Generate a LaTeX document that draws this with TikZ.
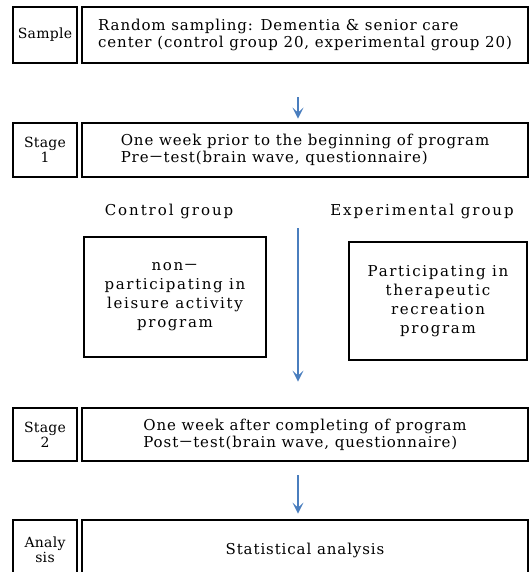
\documentclass[tikz,border=0pt]{standalone}
\usepackage{fontspec}
\setmainfont{DejaVu Serif}[LetterSpace=6]
\newfontfamily\cjk{Noto Sans CJK KR}
\usepackage{tikz}
\usetikzlibrary{calc,arrows.meta,shadows}
\definecolor{flowblue}{RGB}{74,126,190}
\newcommand{\wdash}{{\cjk －}}

\begin{document}
\begin{tikzpicture}[x=1pt,y=-1pt,
  box/.style={draw,fill=white,line width=2.8pt,inner sep=0pt,
    drop shadow={shadow xshift=-1.2pt,shadow yshift=-1.2pt,fill=black!45,opacity=1},
    font=\fontsize{15}{17}\selectfont},
  tag/.style={box,minimum width=64pt,align=center,font=\fontsize{14}{15}\addfontfeatures{LetterSpace=2}},
  wide/.style={box,minimum width=446pt,align=left},
  group/.style={box,align=center,font=\fontsize{15}{19}\addfontfeatures{LetterSpace=11}},
  label/.style={font=\fontsize{15}{16}\addfontfeatures{LetterSpace=13}},
  flow/.style={draw=flowblue,line width=2.6pt,-{Stealth[length=11pt,width=11pt,inset=5pt]}}
]
\useasboundingbox (0,0) rectangle (529,572);

%%% LEFT COLUMN
\node[tag,minimum height=56pt] (sample) at (45,35) {Sample};
\node[tag,minimum height=54pt] (stage1) at (45,150) {Stage\\1};
\node[tag,minimum height=53pt] (stage2) at (45,434.5) {Stage\\2};
\node[tag,minimum height=60pt] (analysis) at (45,550) {Analy\\sis};

%%% RIGHT COLUMN
\node[wide,minimum height=56pt] (sampleR) at (305,35)
  {Random sampling: Dementia \& senior care\\center (control group 20, experimental group 20)};
\node[wide,minimum height=54pt] (stage1R) at (305,150)
  {One week prior to the beginning of program\\Pre\wdash test(brain wave, questionnaire)};
\node[wide,minimum height=53pt] (stage2R) at (305,434.5)
  {One week after completing of program\\Post\wdash test(brain wave, questionnaire)};
\node[wide,minimum height=60pt,align=center] (analysisR) at (305,550) {Statistical analysis};

%%% GROUPS
\node[label] (ctrlT) at (169,211) {Control group};
\node[label] (expT) at (422,211) {Experimental group};
\node[group,minimum width=182pt,minimum height=120pt] (ctrl) at (175,297)
  {non\wdash\\participating in\\leisure activity\\program};
\node[group,minimum width=178pt,minimum height=118pt] (exp) at (438,301)
  {Participating in\\therapeutic\\recreation\\program};

% arrows between the stages
\draw[flow] ($(sampleR.south)+(-7,33)$) -- ($(stage1R.north)+(-7,-3)$);
\draw[flow] ($(stage1R.south)+(-7,50)$) -- ($(stage2R.north)+(-7,-25)$);
\draw[flow] ($(stage2R.south)+(-7,13)$) -- ($(analysisR.north)+(-7,-5)$);
\end{tikzpicture}
\end{document}
